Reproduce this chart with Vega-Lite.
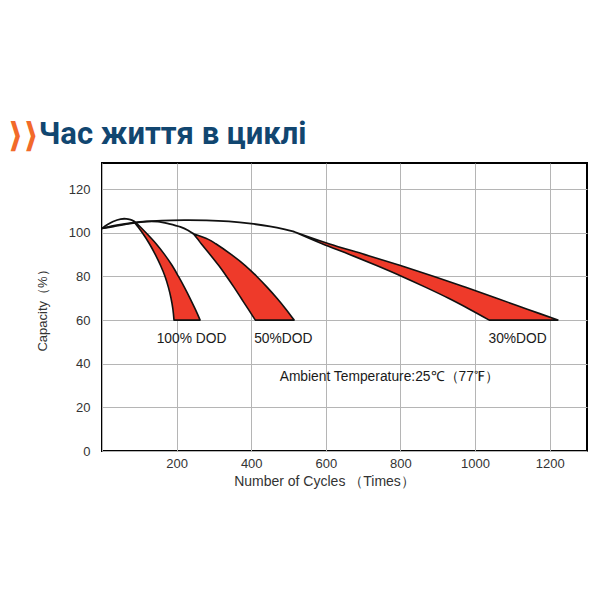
{
  "$schema": "https://vega.github.io/schema/vega-lite/v6.json",
  "width": 485,
  "height": 288,
  "autosize": {"type": "none"},
  "padding": {"left": 102, "top": 163, "right": 13, "bottom": 149},
  "background": "white",
  "title": {
    "text": "⟩⟩",
    "subtitle": "\u200b\u00a0\u00a0\u00a0\u00a0Час життя в циклі",
    "anchor": "start",
    "frame": "group",
    "dx": -94,
    "offset": 8,
    "font": "DejaVu Sans",
    "fontSize": 34,
    "fontWeight": "bold",
    "color": "#f26a2a",
    "subtitleFont": "Liberation Sans Narrow, Roboto",
    "subtitleFontSize": 31,
    "subtitleFontWeight": "bold",
    "subtitleColor": "#114670",
    "subtitlePadding": -34
  },
  "config": {
    "view": {"stroke": "#000", "strokeWidth": 2},
    "axis": {
      "ticks": false,
      "domain": false,
      "grid": true,
      "gridColor": "#b5b5b5",
      "gridWidth": 1,
      "labelFont": "Liberation Sans",
      "labelFontSize": 13,
      "labelColor": "#333",
      "titleFont": "Liberation Sans",
      "titleFontSize": 13,
      "titleFontWeight": "normal",
      "titleColor": "#333"
    }
  },
  "datasets": {
    "regions": [
      {"dod": "100", "y": 105.4, "xl": 84, "xr": 86},
      {"dod": "100", "y": 103, "xl": 95, "xr": 101},
      {"dod": "100", "y": 100, "xl": 108, "xr": 118},
      {"dod": "100", "y": 95, "xl": 127, "xr": 145},
      {"dod": "100", "y": 90, "xl": 143, "xr": 168},
      {"dod": "100", "y": 85, "xl": 157, "xr": 188},
      {"dod": "100", "y": 80, "xl": 169, "xr": 205},
      {"dod": "100", "y": 75, "xl": 178, "xr": 221},
      {"dod": "100", "y": 70, "xl": 185, "xr": 236},
      {"dod": "100", "y": 65, "xl": 190, "xr": 250},
      {"dod": "100", "y": 60, "xl": 193, "xr": 263},
      {"dod": "50", "y": 99.6, "xl": 245, "xr": 245},
      {"dod": "50", "y": 97, "xl": 257, "xr": 285},
      {"dod": "50", "y": 95, "xl": 266, "xr": 305},
      {"dod": "50", "y": 90, "xl": 290, "xr": 347},
      {"dod": "50", "y": 85, "xl": 313, "xr": 384},
      {"dod": "50", "y": 80, "xl": 334, "xr": 415},
      {"dod": "50", "y": 75, "xl": 354, "xr": 443},
      {"dod": "50", "y": 70, "xl": 373, "xr": 469},
      {"dod": "50", "y": 65, "xl": 392, "xr": 493},
      {"dod": "50", "y": 60, "xl": 411, "xr": 515},
      {"dod": "30", "y": 100.5, "xl": 515, "xr": 515},
      {"dod": "30", "y": 95, "xl": 590, "xr": 608},
      {"dod": "30", "y": 90, "xl": 665, "xr": 705},
      {"dod": "30", "y": 85, "xl": 736, "xr": 800},
      {"dod": "30", "y": 80, "xl": 804, "xr": 890},
      {"dod": "30", "y": 75, "xl": 868, "xr": 975},
      {"dod": "30", "y": 70, "xl": 929, "xr": 1058},
      {"dod": "30", "y": 65, "xl": 985, "xr": 1140},
      {"dod": "30", "y": 60, "xl": 1038, "xr": 1222}
    ],
    "curves": [
      {"curve": "A", "x": 0, "y": 102},
      {"curve": "A", "x": 15, "y": 103.8},
      {"curve": "A", "x": 30, "y": 105.2},
      {"curve": "A", "x": 50, "y": 106.3},
      {"curve": "A", "x": 65, "y": 106.4},
      {"curve": "A", "x": 76, "y": 106},
      {"curve": "A", "x": 85, "y": 105.4},
      {"curve": "B", "x": 0, "y": 102},
      {"curve": "B", "x": 40, "y": 103.5},
      {"curve": "B", "x": 80, "y": 104.6},
      {"curve": "B", "x": 120, "y": 105.2},
      {"curve": "B", "x": 150, "y": 105.1},
      {"curve": "B", "x": 180, "y": 104.1},
      {"curve": "B", "x": 210, "y": 102.7},
      {"curve": "B", "x": 230, "y": 101.2},
      {"curve": "B", "x": 245, "y": 99.6},
      {"curve": "C", "x": 0, "y": 102},
      {"curve": "C", "x": 30, "y": 102.9},
      {"curve": "C", "x": 70, "y": 104.1},
      {"curve": "C", "x": 110, "y": 105},
      {"curve": "C", "x": 160, "y": 105.6},
      {"curve": "C", "x": 220, "y": 105.8},
      {"curve": "C", "x": 280, "y": 105.7},
      {"curve": "C", "x": 340, "y": 105.2},
      {"curve": "C", "x": 400, "y": 104.2},
      {"curve": "C", "x": 450, "y": 103},
      {"curve": "C", "x": 490, "y": 101.6},
      {"curve": "C", "x": 515, "y": 100.5}
    ],
    "labels": [
      {"label": "100% DOD", "x": 240, "y": 51.5},
      {"label": "50%DOD", "x": 486, "y": 51.5},
      {"label": "30%DOD", "x": 1114, "y": 51.5},
      {"label": "Ambient Temperature:25℃（77℉）", "x": 770, "y": 34}
    ]
  },
  "layer": [
    {
      "data": {"name": "regions"},
      "mark": {"type": "area", "orient": "horizontal", "interpolate": "catmull-rom", "fill": "#ee3a2a", "stroke": "#111", "strokeWidth": 1.6, "strokeJoin": "round"},
      "encoding": {
        "y": {"field": "y", "type": "quantitative", "scale": {"domain": [0, 132], "nice": false},
              "axis": {"values": [0, 20, 40, 60, 80, 100, 120], "title": "Capacity（%）", "labelPadding": 12, "titlePadding": 19}},
        "x": {"field": "xl", "type": "quantitative", "stack": null, "scale": {"domain": [0, 1300], "nice": false},
              "axis": {"values": [0, 200, 400, 600, 800, 1000, 1200], "format": "d", "labelExpr": "datum.value == 0 ? '' : datum.label", "title": "Number of Cycles （Times）", "titleFontSize": 14, "titleX": 222, "labelPadding": 6, "titlePadding": 4}},
        "x2": {"field": "xr"},
        "detail": {"field": "dod"}
      }
    },
    {
      "data": {"name": "curves"},
      "mark": {"type": "line", "interpolate": "catmull-rom", "color": "#111", "strokeWidth": 1.8},
      "encoding": {
        "x": {"field": "x", "type": "quantitative"},
        "y": {"field": "y", "type": "quantitative"},
        "detail": {"field": "curve"}
      }
    },
    {
      "data": {"name": "labels"},
      "mark": {"type": "text", "font": "Liberation Sans", "fontSize": 13.8, "color": "#1a1a1a", "align": "center", "baseline": "middle"},
      "encoding": {
        "x": {"field": "x", "type": "quantitative"},
        "y": {"field": "y", "type": "quantitative"},
        "text": {"field": "label"}
      }
    }
  ]
}
